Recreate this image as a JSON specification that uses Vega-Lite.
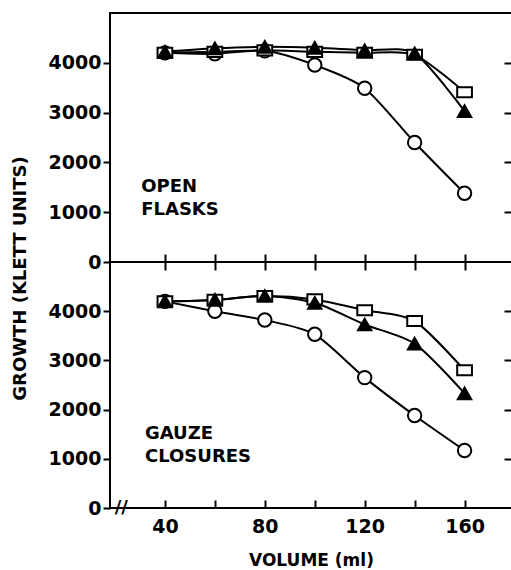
{
  "$schema": "https://vega.github.io/schema/vega-lite/v6.json",
  "padding": {"left": 10, "top": 12, "right": 0, "bottom": 0},
  "background": "white",
  "bounds": "flush",
  "config": {
    "view": {"stroke": "black", "strokeWidth": 2},
    "font": "DejaVu Sans",
    "axis": {"grid": false, "labelFont": "DejaVu Sans", "titleFont": "DejaVu Sans", "labelColor": "black", "titleColor": "black", "tickColor": "black", "domainColor": "black", "tickWidth": 2, "domainWidth": 2, "labelFontSize": 19, "labelFontWeight": "bold", "titleFontSize": 18, "titleFontWeight": "bold", "labelFlush": false, "format": "d"},
    "concat": {"spacing": 0}
  },
  "data": {"values": [
    {"panel": "open", "series": "circle", "volume": 40, "growth": 4200},
    {"panel": "open", "series": "circle", "volume": 60, "growth": 4180},
    {"panel": "open", "series": "circle", "volume": 80, "growth": 4240},
    {"panel": "open", "series": "circle", "volume": 100, "growth": 3955},
    {"panel": "open", "series": "circle", "volume": 120, "growth": 3490},
    {"panel": "open", "series": "circle", "volume": 140, "growth": 2400},
    {"panel": "open", "series": "circle", "volume": 160, "growth": 1380},
    {"panel": "open", "series": "square", "volume": 40, "growth": 4200},
    {"panel": "open", "series": "square", "volume": 60, "growth": 4220},
    {"panel": "open", "series": "square", "volume": 80, "growth": 4250},
    {"panel": "open", "series": "square", "volume": 100, "growth": 4220},
    {"panel": "open", "series": "square", "volume": 120, "growth": 4200},
    {"panel": "open", "series": "square", "volume": 140, "growth": 4160},
    {"panel": "open", "series": "square", "volume": 160, "growth": 3410},
    {"panel": "open", "series": "triangle", "volume": 40, "growth": 4220},
    {"panel": "open", "series": "triangle", "volume": 60, "growth": 4290},
    {"panel": "open", "series": "triangle", "volume": 80, "growth": 4320},
    {"panel": "open", "series": "triangle", "volume": 100, "growth": 4300},
    {"panel": "open", "series": "triangle", "volume": 120, "growth": 4250},
    {"panel": "open", "series": "triangle", "volume": 140, "growth": 4190},
    {"panel": "open", "series": "triangle", "volume": 160, "growth": 3030},
    {"panel": "gauze", "series": "circle", "volume": 40, "growth": 4200},
    {"panel": "gauze", "series": "circle", "volume": 60, "growth": 4000},
    {"panel": "gauze", "series": "circle", "volume": 80, "growth": 3820},
    {"panel": "gauze", "series": "circle", "volume": 100, "growth": 3530},
    {"panel": "gauze", "series": "circle", "volume": 120, "growth": 2650},
    {"panel": "gauze", "series": "circle", "volume": 140, "growth": 1880},
    {"panel": "gauze", "series": "circle", "volume": 160, "growth": 1170},
    {"panel": "gauze", "series": "square", "volume": 40, "growth": 4200},
    {"panel": "gauze", "series": "square", "volume": 60, "growth": 4230},
    {"panel": "gauze", "series": "square", "volume": 80, "growth": 4310},
    {"panel": "gauze", "series": "square", "volume": 100, "growth": 4240},
    {"panel": "gauze", "series": "square", "volume": 120, "growth": 4020},
    {"panel": "gauze", "series": "square", "volume": 140, "growth": 3800},
    {"panel": "gauze", "series": "square", "volume": 160, "growth": 2800},
    {"panel": "gauze", "series": "triangle", "volume": 40, "growth": 4200},
    {"panel": "gauze", "series": "triangle", "volume": 60, "growth": 4230},
    {"panel": "gauze", "series": "triangle", "volume": 80, "growth": 4310},
    {"panel": "gauze", "series": "triangle", "volume": 100, "growth": 4170},
    {"panel": "gauze", "series": "triangle", "volume": 120, "growth": 3730},
    {"panel": "gauze", "series": "triangle", "volume": 140, "growth": 3340},
    {"panel": "gauze", "series": "triangle", "volume": 160, "growth": 2330}
  ]},
  "vconcat": [
    {
      "width": 402,
      "height": 249,
      "transform": [{"filter": "datum.panel == 'open'"}],
      "layer": [
        {
          "mark": {"type": "line", "interpolate": "cardinal", "tension": 0.25, "stroke": "black", "strokeWidth": 2},
          "encoding": {
            "x": {"field": "volume", "type": "quantitative", "scale": {"domain": [18, 179], "nice": false, "zero": false},
                  "axis": {"orient": "bottom", "values": [40, 60, 80, 100, 120, 140, 160], "tickSize": -8, "labels": false, "domain": false, "title": null}},
            "y": {"field": "growth", "type": "quantitative", "scale": {"domain": [0, 5000], "nice": false},
                  "axis": {"orient": "left", "values": [0, 1000, 2000, 3000, 4000], "tickSize": 7, "labelPadding": 2, "domain": false, "format": "d",
                           "title": "GROWTH (KLETT UNITS)", "titleX": -90, "titleY": 265, "titleAngle": -90, "titleAlign": "center", "titleBaseline": "middle"}},
            "detail": {"field": "series"}
          }
        },
        {
          "mark": {"type": "point", "filled": true, "stroke": "black", "strokeWidth": 2, "opacity": 1, "size": 180},
          "encoding": {
            "x": {"field": "volume", "type": "quantitative", "axis": null},
            "y": {"field": "growth", "type": "quantitative",
                  "axis": {"orient": "right", "values": [1000, 2000, 3000, 4000], "tickSize": -8, "labels": false, "domain": false, "title": null}},
            "shape": {"field": "series", "type": "nominal", "scale": {"domain": ["circle", "triangle", "square"], "range": ["circle", "triangle-up", "M-1.1,-0.75L1.1,-0.75L1.1,0.75L-1.1,0.75Z"]}, "legend": null},
            "fill": {"field": "series", "type": "nominal", "scale": {"domain": ["circle", "triangle", "square"], "range": ["white", "black", "white"]}, "legend": null}
          }
        },
        {
          "data": {"values": [{}]},
          "mark": {"type": "text", "align": "left", "baseline": "top", "fontSize": 18, "fontWeight": "bold", "lineHeight": 23, "font": "DejaVu Sans", "color": "black"},
          "encoding": {
            "x": {"datum": 30.5, "type": "quantitative", "axis": null},
            "y": {"datum": 1690, "type": "quantitative", "axis": null},
            "text": {"value": ["OPEN", "FLASKS"]}
          }
        }
      ],
      "resolve": {"axis": {"x": "independent", "y": "independent"}}
    },
    {
      "width": 402,
      "height": 246,
      "transform": [{"filter": "datum.panel == 'gauze'"}],
      "layer": [
        {
          "mark": {"type": "line", "interpolate": "cardinal", "tension": 0.25, "stroke": "black", "strokeWidth": 2},
          "encoding": {
            "x": {"field": "volume", "type": "quantitative", "scale": {"domain": [18, 179], "nice": false, "zero": false},
                  "axis": {"orient": "bottom", "values": [40, 60, 80, 100, 120, 140, 160], "tickSize": -8, "labelPadding": 17,
                           "labelExpr": "datum.value % 40 == 0 ? datum.label : ''", "domain": false,
                           "title": "VOLUME (ml)", "titleFontSize": 17, "titlePadding": 16}},
            "y": {"field": "growth", "type": "quantitative", "scale": {"domain": [0, 5000], "nice": false},
                  "axis": {"orient": "left", "values": [0, 1000, 2000, 3000, 4000], "tickSize": 7, "labelPadding": 2, "domain": false, "format": "d", "title": null}},
            "detail": {"field": "series"}
          }
        },
        {
          "mark": {"type": "point", "filled": true, "stroke": "black", "strokeWidth": 2, "opacity": 1, "size": 180},
          "encoding": {
            "x": {"field": "volume", "type": "quantitative",
                  "axis": {"orient": "top", "values": [40, 60, 80, 100, 120, 140, 160], "tickSize": -8, "labels": false, "domain": false, "title": null}},
            "y": {"field": "growth", "type": "quantitative",
                  "axis": {"orient": "right", "values": [1000, 2000, 3000, 4000], "tickSize": -8, "labels": false, "domain": false, "title": null}},
            "shape": {"field": "series", "type": "nominal", "scale": {"domain": ["circle", "triangle", "square"], "range": ["circle", "triangle-up", "M-1.1,-0.75L1.1,-0.75L1.1,0.75L-1.1,0.75Z"]}, "legend": null},
            "fill": {"field": "series", "type": "nominal", "scale": {"domain": ["circle", "triangle", "square"], "range": ["white", "black", "white"]}, "legend": null}
          }
        },
        {
          "data": {"values": [{}]},
          "mark": {"type": "text", "align": "left", "baseline": "top", "fontSize": 18, "fontWeight": "bold", "lineHeight": 23, "font": "DejaVu Sans", "color": "black"},
          "encoding": {
            "x": {"datum": 32, "type": "quantitative", "axis": null},
            "y": {"datum": 1690, "type": "quantitative", "axis": null},
            "text": {"value": ["GAUZE", "CLOSURES"]}
          }
        },
        {
          "data": {"values": [{}]},
          "mark": {"type": "text", "align": "center", "baseline": "middle", "fontSize": 18, "font": "DejaVu Sans", "color": "black", "fontWeight": "bold"},
          "encoding": {
            "x": {"datum": 22.5, "type": "quantitative", "axis": null},
            "y": {"datum": 0, "type": "quantitative", "axis": null},
            "text": {"value": "//"}
          }
        }
      ],
      "resolve": {"axis": {"x": "independent", "y": "independent"}}
    }
  ]
}
